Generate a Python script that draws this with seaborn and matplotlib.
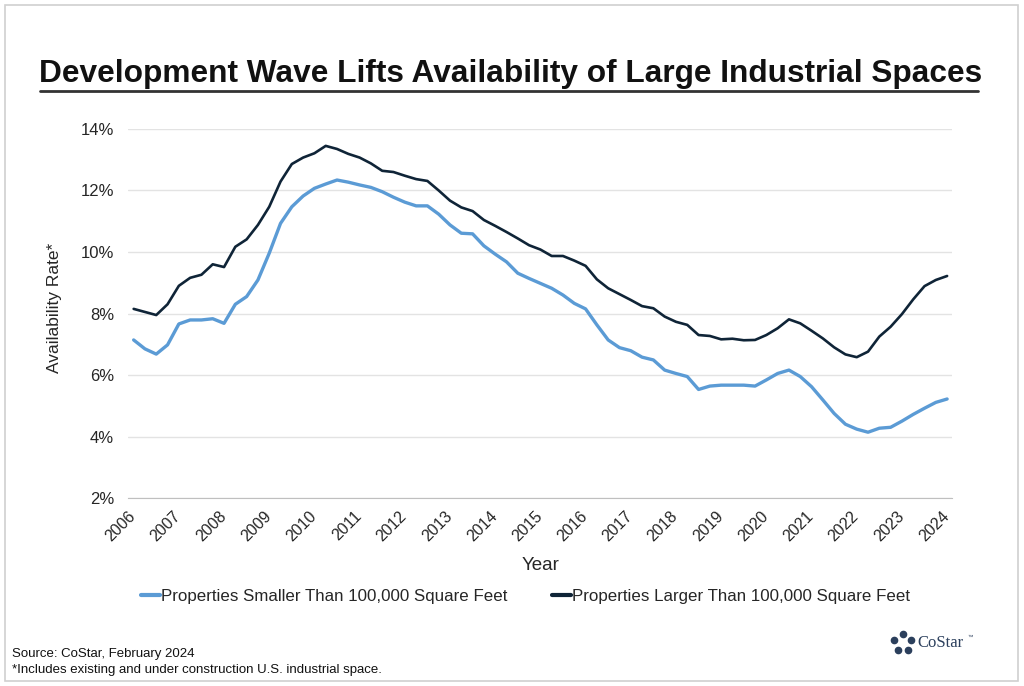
import numpy as np
import pandas as pd
import seaborn as sns
import matplotlib.pyplot as plt
from matplotlib.patches import Rectangle
from matplotlib.lines import Line2D

# quarterly availability rates, 2006 Q1 .. 2024 Q1 (percent)
small_sf = [7.14, 6.85, 6.68, 6.98, 7.66, 7.79, 7.79, 7.83, 7.68, 8.30,
            8.55, 9.09, 9.96, 10.93, 11.47, 11.82, 12.07, 12.21, 12.34, 12.27,
            12.18, 12.10, 11.96, 11.78, 11.62, 11.50, 11.50, 11.23, 10.88, 10.61,
            10.59, 10.20, 9.93, 9.68, 9.31, 9.14, 8.98, 8.82, 8.60, 8.33,
            8.15, 7.63, 7.14, 6.89, 6.79, 6.58, 6.49, 6.16, 6.05, 5.95,
            5.53, 5.64, 5.67, 5.67, 5.67, 5.64, 5.84, 6.05, 6.16, 5.95,
            5.62, 5.19, 4.75, 4.40, 4.24, 4.14, 4.27, 4.30, 4.50, 4.72,
            4.92, 5.11, 5.22]
large_sf = [8.15, 8.05, 7.95, 8.30, 8.90, 9.16, 9.26, 9.60, 9.51, 10.17,
            10.41, 10.88, 11.47, 12.29, 12.86, 13.07, 13.21, 13.45, 13.35, 13.19,
            13.07, 12.88, 12.64, 12.60, 12.48, 12.37, 12.31, 12.00, 11.67, 11.45,
            11.33, 11.04, 10.85, 10.65, 10.44, 10.22, 10.08, 9.87, 9.87, 9.72,
            9.55, 9.11, 8.82, 8.63, 8.44, 8.24, 8.17, 7.90, 7.73, 7.63,
            7.30, 7.27, 7.16, 7.18, 7.13, 7.14, 7.30, 7.52, 7.81, 7.68,
            7.44, 7.19, 6.90, 6.67, 6.58, 6.76, 7.25, 7.57, 7.98, 8.46,
            8.89, 9.09, 9.22]
years = list(range(2006, 2025))
label_small = "Properties Smaller Than 100,000 Square Feet"
label_large = "Properties Larger Than 100,000 Square Feet"

# mid-quarter positions
t = [2006 + (i + 0.5) / 4 for i in range(len(small_sf))]
df = pd.DataFrame({
    "Year": t * 2,
    "Rate": small_sf + large_sf,
    "Series": [label_small] * len(t) + [label_large] * len(t),
})

sns.set_style("white")
plt.rcParams["font.family"] = ["Liberation Sans", "DejaVu Sans"]

c_small = "#5B9BD5"
c_large = "#0F2437"
txt = "#262626"

fig = plt.figure(figsize=(10.24, 6.86), dpi=100)
ax = fig.add_axes([0.125, 0.274, 0.805, 0.538])

sns.lineplot(data=df, x="Year", y="Rate", hue="Series",
             palette={label_small: c_small, label_large: c_large},
             ax=ax, legend=False)
for ln, lw in zip(ax.lines, [2.4, 1.9]):
    ln.set_linewidth(lw)

ax.set_xlim(2006, 2024.24)
ax.set_ylim(2, 14)
ax.set_yticks(range(2, 15, 2))
ax.set_yticklabels([f"{v}%" for v in range(2, 15, 2)], fontsize=12, color=txt)
ax.set_xticks(years)
ax.set_xticklabels([str(y) for y in years], rotation=45, ha="right",
                   rotation_mode="anchor", fontsize=11.5, color=txt)
ax.grid(axis="y", color="#E3E3E3", linewidth=1)
ax.set_axisbelow(True)
for s in ["top", "right", "left"]:
    ax.spines[s].set_visible(False)
ax.spines["bottom"].set_color("#BFBFBF")
ax.tick_params(axis="x", direction="inout", length=7, color="#BFBFBF", pad=4)
ax.tick_params(axis="y", length=0, pad=10)
ax.set_xlabel("Year", fontsize=13.5, color=txt, labelpad=9)
ax.set_ylabel("Availability Rate*", fontsize=12.5, color=txt)
ax.yaxis.set_label_coords(-0.080, 0.515)

# title with rule
fig.text(0.4985, 0.8805, "Development Wave Lifts Availability of Large Industrial Spaces",
         ha="center", va="baseline", fontsize=22.8, fontweight="bold", color="#111111")
fig.add_artist(Line2D([0.039, 0.955], [0.867, 0.867], color="#333333", linewidth=2))

handles = [Line2D([], [], color=c_small, linewidth=3),
           Line2D([], [], color=c_large, linewidth=3)]
fig.legend(handles, [label_small, label_large], loc="center", ncol=2,
           bbox_to_anchor=(0.513, 0.13), frameon=False, fontsize=12.2,
           handlelength=1.15, handletextpad=0.05, columnspacing=2.6,
           labelcolor=txt)

fig.text(0.012, 0.042, "Source: CoStar, February 2024", fontsize=9.5, color="#111111")
fig.text(0.012, 0.019, "*Includes existing and under construction U.S. industrial space.",
         fontsize=9.5, color="#111111")

# CoStar logo
ang = np.linspace(0, 2 * np.pi, 6)[:-1] + np.pi / 2
fig.add_artist(plt.Line2D(0.8815 + 0.0085 * np.cos(ang), 0.0627 + 0.0125 * np.sin(ang),
                          linestyle="none", marker="o", markersize=4.5,
                          color="#2B3F5C", transform=fig.transFigure))
fig.text(0.896, 0.0627, "CoStar", fontsize=12, family="Liberation Serif",
         color="#2B3F5C", va="center")
fig.text(0.945, 0.071, "™", fontsize=4, color="#2B3F5C", va="center")

fig.add_artist(Rectangle((0.005, 0.008), 0.989, 0.985, transform=fig.transFigure,
                         fill=False, edgecolor="#D0D0D0", linewidth=1.2))

fig.savefig("out.png", dpi=100)
